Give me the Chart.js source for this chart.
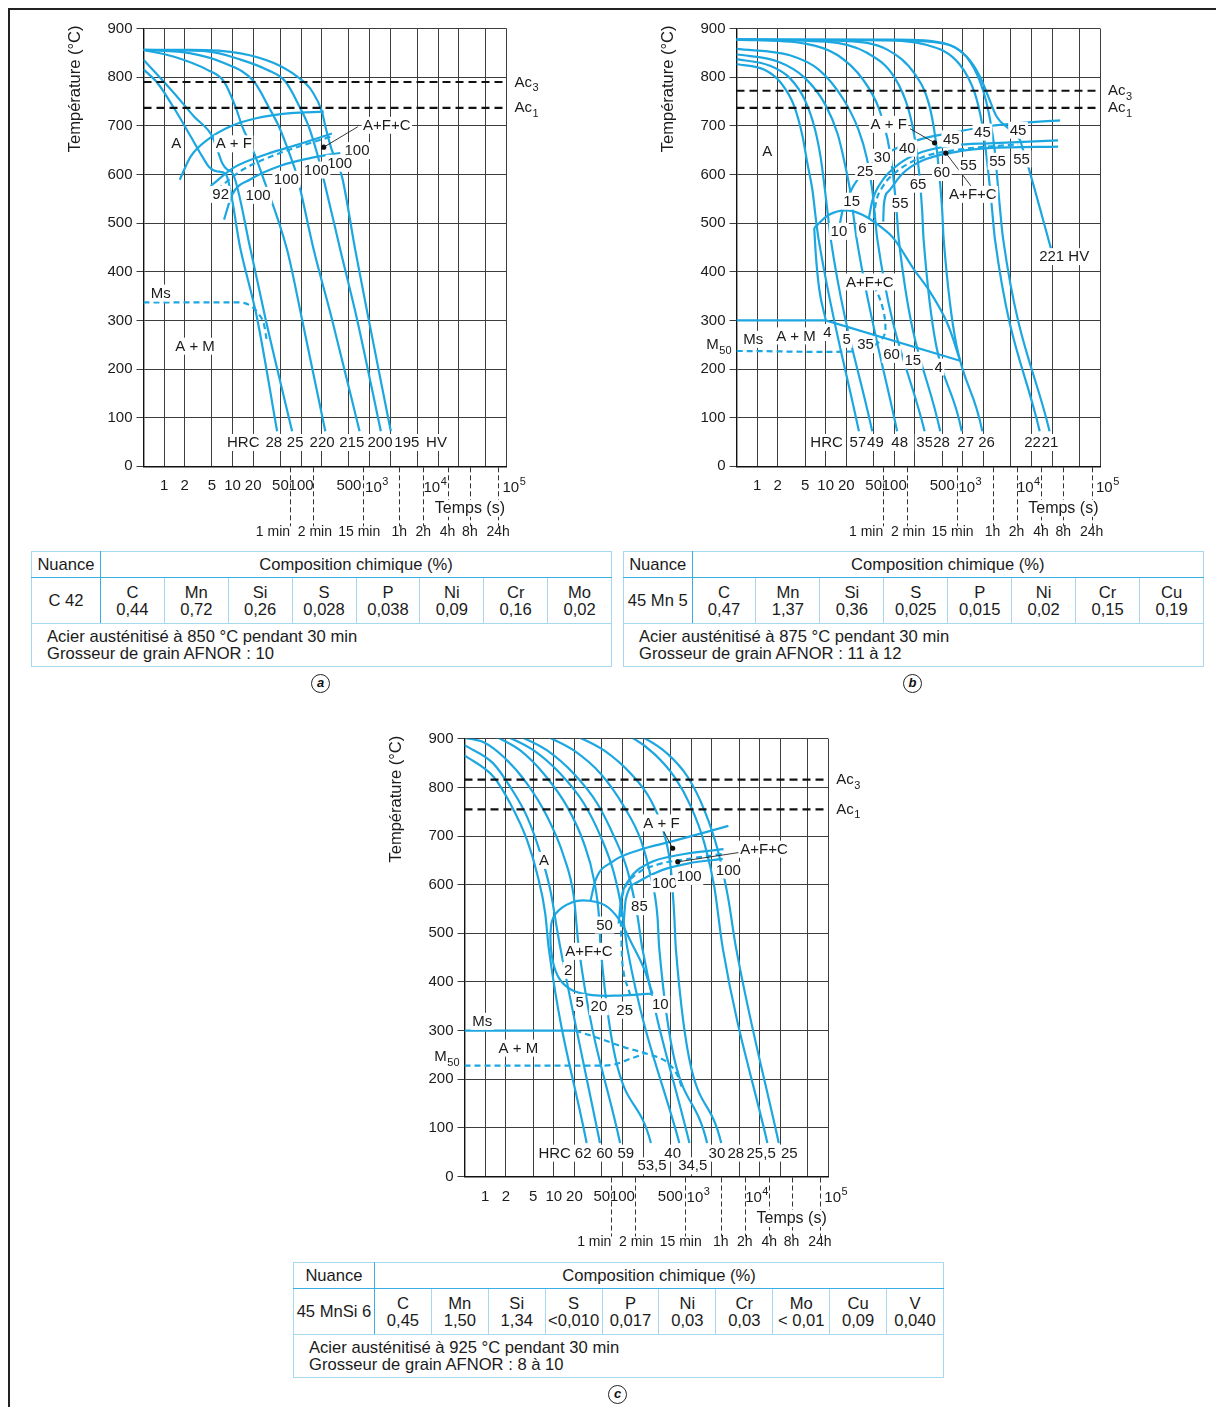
<!DOCTYPE html>
<html><head><meta charset="utf-8"><title>CCT</title>
<script src="https://cdn.jsdelivr.net/npm/chart.js@4.4.1/dist/chart.umd.min.js"></script>
<style>
html,body{margin:0;padding:0;background:#fff;}
body{position:relative;width:1216px;height:1407px;overflow:hidden;font-family:"Liberation Sans",Arial,sans-serif;color:#1b1b1b;}
#frameTop{position:absolute;left:8px;top:8px;width:1208px;height:1.5px;background:#222;}
#frameLeft{position:absolute;left:8px;top:8px;width:1.5px;height:1399px;background:#222;}
canvas{position:absolute;}
table.comp{position:absolute;border-collapse:collapse;table-layout:fixed;font-size:16.6px;line-height:17px;border:1.6px solid #3aafe3;color:#1b1b1b;}
table.comp td{border:1px solid #a6d8f0;padding:0;text-align:center;vertical-align:middle;white-space:nowrap;overflow:hidden;}
table.comp td.nm{border-right:1.6px solid #3aafe3;}
table.comp tr.h td{border-bottom:1.6px solid #3aafe3;}
table.comp tr.f td{border-top:1.6px solid #3aafe3;text-align:left;padding-left:15px;}
.circ{position:absolute;width:17px;height:17px;border:1.3px solid #222;border-radius:50%;font:italic bold 13px "Liberation Sans",Arial,sans-serif;text-align:center;line-height:16px;color:#111;}
</style></head><body>
<div id="frameTop"></div><div id="frameLeft"></div>
<canvas id="a" width="608" height="545" style="left:0;top:0"></canvas>
<canvas id="b" width="608" height="545" style="left:608px;top:0"></canvas>
<canvas id="c" width="620" height="545" style="left:300px;top:710px"></canvas>
<div id="tables"></div>
<div class="circ" style="left:311px;top:674px">a</div>
<div class="circ" style="left:903px;top:674px">b</div>
<div class="circ" style="left:608px;top:1385px">c</div>
<script>
// ---------- shared axis values ----------
const X_GRID = [0.5,1,2,5,10,20,50,100,200,500,1000,2000,5000,10000,20000,50000,100000];
const X_LABELS = {1:'1',2:'2',5:'5',10:'10',20:'20',50:'50',100:'100',500:'500'};
const X_POWERS = [[1000,'3'],[10000,'4'],[100000,'5']];
const TIME_MARKS = [[68.8,'1 min'],[151,'2 min'],[809,'15 min'],[2712,'1h'],[6080,'2h'],[13800,'4h'],[29200,'8h'],[75600,'24h']];
const TEMPS_T = 29200;

// ---------- chart a : C 42 ----------
const A_AC = [[790,'3'],[737,'1']];
const A_CURVE_28  = [[0.5,816],[0.8,788],[1.4,736],[2.45,678],[3.6,637],[4.5,616],[6.0,606],[7.9,601],[13.1,445],[22.9,303],[44.7,72]];
const A_CURVE_25  = [[0.5,836],[1.4,767],[2.73,719],[5.06,678],[6.12,647],[7.07,623],[8.37,610],[9.9,604],[18.3,445],[30.3,303],[74,72]];
const A_CURVE_220 = [[0.5,856],[1.4,842],[4.28,815],[7.48,791],[11.1,738],[13.8,699],[19.3,654],[27,599],[62.5,445],[103,303],[226,72]];
const A_CURVE_215 = [[0.5,856],[2.45,849],[7.48,829],[20.5,791],[33.8,738],[47.3,699],[70,637],[87.5,596],[153,445],[282,303],[715,72]];
const A_CURVE_200 = [[0.5,856],[4.28,853],[13.1,836],[31.9,815],[59,791],[96,738],[129,699],[171,644],[209,596],[374,445],[655,303],[1462,72]];
const A_CURVE_195 = [[0.5,856],[2.45,856],[13.1,849],[40,829],[88,801],[145,771],[202,729],[226,699],[280,651],[395,596],[618,445],[967,303],[2046,72]];
const A_FS  = [[1.69,589],[2.45,637],[4.28,671],[9.35,699],[22.9,716],[70,726],[214,729]];
const A_PS  = [[4.78,576],[10.4,614],[32,642],[98,663],[282,684]];
const A_P50 = [[5.98,569],[13.1,607],[40,639],[305,680]];
const A_PF  = [[7.5,507],[9.9,559],[18.3,590],[50,618],[153,635],[374,644]];
const A_MS  = [[0.5,337],[11.7,337],[18.3,330],[24.1,313],[28.7,292],[31.3,262]];
const A_LABELS = [[1.51,664,'A'],[10.4,663,'A + F'],[1790,701,'A+F+C'],[655,649,'100'],[366,623,'100'],[167,609,'100'],[61,590,'100'],[23.6,557,'100'],[6.7,559,'92'],[0.89,356,'Ms'],[2.83,247,'A + M']];
const A_LEADERS = [[674,698,214,656]];
const A_DOTS = [[214,656]];
const A_HARD_T = 49;
const A_HARD = [[14.3,'HRC'],[40,'28'],[82,'25'],[203,'220'],[550,'215'],[1420,'200'],[3500,'195'],[9500,'HV']];

// ---------- chart b : 45 Mn 5 ----------
const B_AC = [[772,'3'],[737,'1']];
const B_CURVE_57  = [[0.5,827],[1.28,815],[2.23,788],[3.48,740],[4.6,678],[5.4,623],[6.4,568],[7.2,507],[7.85,468],[30.5,72]];
const B_CURVE_49  = [[0.5,837],[1.5,824],[3,798],[5,752],[7,692],[8.5,632],[9.8,565],[11,505],[11.8,468],[47.7,72]];
const B_CURVE_48  = [[0.5,847],[2,832],[5,798],[10,742],[15,682],[19,622],[23,562],[26,505],[28.2,468],[110,72]];
const B_CURVE_35  = [[0.5,858],[3,845],[8,815],[18,755],[30,692],[40,632],[48,565],[53,505],[56.4,468],[277,72]];
const B_CURVE_28  = [[0.5,877],[5,869],[15,845],[35,795],[60,735],[80,672],[95,605],[108,525],[116,468],[468,72]];
const B_CURVE_27  = [[0.5,877],[10,873],[40,850],[100,800],[160,735],[200,672],[230,605],[255,525],[267,468],[964,72]];
const B_CURVE_26  = [[0.5,877],[20,874],[80,856],[200,806],[320,745],[400,672],[450,605],[500,525],[524,468],[1923,72]];
const B_CURVE_22  = [[0.5,877],[50,876],[300,866],[900,826],[1500,766],[1900,705],[2200,640],[2600,545],[2930,468],[13200,72]];
const B_CURVE_21  = [[0.5,877],[100,876],[600,867],[1300,830],[2000,770],[2500,712],[2900,652],[3400,545],[3860,468],[18400,72]];
const B_CURVE_221 = [[0.5,877],[110,877],[523,870],[1140,842],[1780,801],[2350,760],[3100,719],[4850,692],[6800,671],[7530,651],[8980,616],[19500,445]];
const B_FS  = [[16,497],[17.5,524],[21.9,559],[30.6,594],[53.3,628],[104,653],[253,673],[772,687],[2350,699],[7160,706],[26250,711]];
const B_PS  = [[42.7,510],[47.6,545],[66.6,587],[116,621],[253,646],[772,660],[2350,664],[24500,670]];
const B_P50 = [[50.4,510],[53.3,538],[66.6,573],[104,604],[253,635],[772,650],[6410,662]];
const B_PF  = [[69,503],[70.5,538],[83.2,566],[130,601],[253,628],[772,646],[2350,654],[24500,657]];
const B_BN  = [[6.8,490],[11.2,517],[19.6,526],[34.2,517],[66.6,490],[98.4,468],[191,406],[334,358],[584,296],[912,217]];
const B_BL  = [[6.8,490],[7.18,434],[8.03,365],[10,301]];
const B_MS  = [[0.5,300],[10,300],[912,217]];
const B_M50 = [[0.5,237],[40,237],[50.6,248],[66.5,262],[74.4,282],[66.5,330],[50.6,372]];
const B_LABELS = [[1.4,648,'A'],[83,703,'A + F'],[678,673,'45'],[1930,687,'45'],[6380,691,'45'],[155,654,'40'],[66.6,635,'30'],[37.4,606,'25'],[23.9,545,'15'],[15.6,483,'10'],[34.2,490,'6'],[222,580,'65'],[122,540,'55'],[494,604,'60'],[1206,618,'55'],[3200,627,'55'],[7160,632,'55'],[1400,559,'A+F+C'],[44,379,'A+F+C'],[30000,431,'221 HV'],[0.88,261,'Ms'],[3.68,268,'A + M'],[10.6,275,'4'],[20.2,261,'5'],[38,250,'35'],[91,230,'60'],[186,218,'15'],[444,204,'4']];
const B_LEADERS = [[170,694,387,665],[1318,576,565,644]];
const B_DOTS = [[387,665],[565,644]];
const B_M50_T = 252;
const B_HARD_T = 49;
const B_HARD = [[10.3,'HRC'],[29.5,'57'],[53,'49'],[120,'48'],[277,'35'],[490,'28'],[1100,'27'],[2210,'26'],[10400,'22'],[18700,'21']];

// ---------- chart c : 45 MnSi 6 ----------
const C_AC = [[816,'3'],[755,'1']];
const C_CURVE_62  = [[0.5,866],[1.32,822],[2.32,767],[4.07,692],[5.7,623],[7.5,541],[8.45,469],[30.1,69]];
const C_CURVE_60  = [[0.5,887],[1.32,849],[2.32,801],[4.07,740],[6.4,664],[8.9,589],[11.2,507],[12.5,469],[47.1,69]];
const C_CURVE_59  = [[0.5,902],[0.95,893],[1.85,863],[4.07,808],[8,740],[14,658],[19.6,575],[23.2,469],[92.4,69]];
const C_CURVE_535 = [[1.3,906],[1.66,900],[3.25,876],[7.14,828],[15.7,760],[27.5,685],[38.5,610],[45.5,535],[48.2,469],[260,69]];
const C_CURVE_40  = [[1.9,906],[2.45,900],[5.1,876],[12.5,828],[27.5,767],[48.2,699],[75.5,623],[100,541],[118,469],[675,69]];
const C_CURVE_345 = [[3,906],[3.85,900],[8,876],[19.6,828],[43,767],[75.5,699],[118,630],[166,535],[195,469],[946,69]];
const C_CURVE_30  = [[7.3,906],[9.45,900],[19.6,876],[48.2,828],[106,760],[185,692],[258,617],[324,535],[344,469],[1715,69]];
const C_CURVE_28  = [[20,906],[26,900],[54,876],[133,828],[258,774],[405,705],[510,630],[570,535],[600,469],[2750,69]];
const C_CURVE_255 = [[115,906],[148,900],[291,869],[570,822],[1000,760],[1567,685],[2180,596],[2900,469],[12950,69]];
const C_CURVE_25  = [[170,906],[218,900],[455,869],[890,822],[1567,753],[2456,671],[3440,576],[4540,469],[18970,69]];
const C_FS  = [[34.3,567],[40.5,609],[71,647],[172,671],[527,689],[3500,721]];
const C_PS  = [[88,520],[96,570],[125,610],[242,644],[661,661],[2970,673]];
const C_P50 = [[131,372],[104,420],[97,480],[96,540],[106,590],[160,622],[337,642],[820,652],[2800,663]];
const C_PF  = [[104,520],[112,570],[170,606],[377,630],[920,644],[2890,653]];
const C_BN  = [[275,376],[262,385],[204,429],[139,477],[88.6,529],[56.8,557],[32.5,567],[18.6,564],[10.6,540],[9.0,505],[9.5,449],[11.9,408],[18.6,383],[36.3,373],[88.6,372],[275,376]];
const C_MS  = [[0.5,300],[20.7,300]];
const C_MSD = [[20.7,300],[48.2,283],[105,266],[232,252],[455,234],[638,207],[753,179]];
const C_M50 = [[0.5,228],[48,228],[80,231],[130,242],[208,252]];
const C_LABELS = [[7.2,650,'A'],[371,727,'A + F'],[11600,673,'A+F+C'],[412,602,'100'],[940,617,'100'],[3500,630,'100'],[177,555,'85'],[55,517,'50'],[32.5,463,'A+F+C'],[16.2,424,'2'],[23.8,358,'5'],[45.5,349,'20'],[108,342,'25'],[357,354,'10'],[0.91,319,'Ms'],[3.05,264,'A + M']];
const C_LEADERS = [[387,713,540,675],[4920,666,640,647]];
const C_DOTS = [[540,675],[640,647]];
const C_M50_T = 248;
const C_HARD_T = 48;
const C_HARD = [[10.3,'HRC'],[26.8,'62'],[55,'60'],[112,'59'],[540,'40'],[2380,'30'],[4500,'28'],[10500,'25,5'],[27000,'25']];
const C_HARD_LOW_T = 22;
const C_HARD_LOW = [[270,'53,5'],[1060,'34,5']];

// ---------- tables ----------
const TA_NAME = 'C 42';
const TA_ELEM = ['C','Mn','Si','S','P','Ni','Cr','Mo'];
const TA_VAL  = ['0,44','0,72','0,26','0,028','0,038','0,09','0,16','0,02'];
const TA_NOTE = ['Acier austénitisé à 850 °C pendant 30 min','Grosseur de grain AFNOR : 10'];
const TB_NAME = '45 Mn 5';
const TB_ELEM = ['C','Mn','Si','S','P','Ni','Cr','Cu'];
const TB_VAL  = ['0,47','1,37','0,36','0,025','0,015','0,02','0,15','0,19'];
const TB_NOTE = ['Acier austénitisé à 875 °C pendant 30 min','Grosseur de grain AFNOR : 11 à 12'];
const TC_NAME = '45 MnSi 6';
const TC_ELEM = ['C','Mn','Si','S','P','Ni','Cr','Mo','Cu','V'];
const TC_VAL  = ['0,45','1,50','1,34','<0,010','0,017','0,03','0,03','< 0,01','0,09','0,040'];
const TC_NOTE = ['Acier austénitisé à 925 °C pendant 30 min','Grosseur de grain AFNOR : 8 à 10'];

// ================= rendering =================
const BLUE = '#1ca7e1';
const TXT = '#1b1b1b';
const GRID = '#3d3d3d';
const FONT = '"Liberation Sans", Arial, sans-serif';
const TIME_LABEL_DX = {'1 min':-17,'2 min':1.5,'15 min':-4};
const POWER_DX = {'3':-4.5,'4':-14.5,'5':-4};

function pts(a){return a.map(p=>({x:p[0],y:p[1]}));}
function line(a,o){return Object.assign({data:pts(a),showLine:true,borderColor:BLUE,borderWidth:2.2,pointRadius:0,pointHoverRadius:0,fill:false,tension:0,cubicInterpolationMode:'monotone'},o||{});}
const mono = a => line(a);
const loop = a => line(a,{cubicInterpolationMode:'default',tension:0.4});
const straight = a => line(a,{cubicInterpolationMode:'default',tension:0});
const dashedMono = a => line(a,{borderDash:[6,4]});
const dashedLoop = a => line(a,{borderDash:[6,4],cubicInterpolationMode:'default',tension:0.4});
const acLine = T => ({data:[{x:0.5,y:T},{x:100000,y:T}],showLine:true,borderColor:'#111',borderWidth:2.2,borderDash:[8,5],pointRadius:0,tension:0});

const DECOR = {
  a:{ac:A_AC,labels:A_LABELS,leaders:A_LEADERS,dots:A_DOTS,hard:A_HARD,hardT:A_HARD_T},
  b:{ac:B_AC,labels:B_LABELS,leaders:B_LEADERS,dots:B_DOTS,hard:B_HARD,hardT:B_HARD_T,m50:B_M50_T},
  c:{ac:C_AC,labels:C_LABELS,leaders:C_LEADERS,dots:C_DOTS,hard:C_HARD,hardT:C_HARD_T,hardLow:C_HARD_LOW,hardLowT:C_HARD_LOW_T,m50:C_M50_T}
};

function textBox(ctx,x,y,txt,font,bg){
  ctx.font=font; const w=ctx.measureText(txt).width;
  if(bg!==false){ctx.fillStyle='#fff';ctx.fillRect(x-w/2-1.5,y-8.5,w+3,17);}
  ctx.fillStyle=TXT;ctx.textAlign='center';ctx.textBaseline='middle';ctx.fillText(txt,x,y+0.5);
}
function subText(ctx,x,y,main,sub,align){
  ctx.font='15px '+FONT; const w1=ctx.measureText(main).width;
  ctx.font='11px '+FONT; const w2=ctx.measureText(sub).width;
  const x0 = align==='right' ? x-w1-w2-0.5 : x;
  ctx.fillStyle=TXT;ctx.textAlign='left';ctx.textBaseline='alphabetic';
  ctx.font='15px '+FONT; ctx.fillText(main,x0,y+5.5);
  ctx.font='11px '+FONT; ctx.fillText(sub,x0+w1+0.5,y+10);
}

const decorPlugin = {
  id:'decor',
  afterDraw(chart){
    const s=DECOR[chart.canvas.id]; if(!s) return;
    const ctx=chart.ctx, ca=chart.chartArea, xs=chart.scales.x, ys=chart.scales.y;
    const X=v=>xs.getPixelForValue(v), Y=v=>ys.getPixelForValue(v);
    ctx.save();
    ctx.strokeStyle='#222';ctx.lineWidth=0.9;
    s.leaders.forEach(l=>{ctx.beginPath();ctx.moveTo(X(l[0]),Y(l[1]));ctx.lineTo(X(l[2]),Y(l[3]));ctx.stroke();});
    s.labels.forEach(l=>textBox(ctx,X(l[0]),Y(l[1]),l[2],'15px '+FONT));
    s.hard.forEach(h=>textBox(ctx,X(h[0]),Y(s.hardT),h[1],'15px '+FONT));
    (s.hardLow||[]).forEach(h=>textBox(ctx,X(h[0]),Y(s.hardLowT),h[1],'15px '+FONT));
    ctx.fillStyle='#111';
    s.dots.forEach(d=>{ctx.beginPath();ctx.arc(X(d[0]),Y(d[1]),2.6,0,Math.PI*2);ctx.fill();});
    s.ac.forEach(a=>subText(ctx,ca.right+8,Y(a[0])-1,'Ac',a[1],'left'));
    if(s.m50) subText(ctx,ca.left-5,Y(s.m50),'M','50','right');
    X_POWERS.forEach(p=>{
      const gx=X(p[0])+POWER_DX[p[1]], by=ca.bottom+25.5;
      ctx.fillStyle=TXT;ctx.textAlign='left';ctx.textBaseline='alphabetic';
      ctx.font='15px '+FONT; ctx.fillText('10',gx,by);
      const w=ctx.measureText('10').width;
      ctx.font='11px '+FONT; ctx.fillText(p[1],gx+w+0.5,by-7);
    });
    ctx.strokeStyle='#333';ctx.lineWidth=1;ctx.setLineDash([5,3]);
    TIME_MARKS.forEach(m=>{const x=Math.round(X(m[0]))+0.5;ctx.beginPath();ctx.moveTo(x,ca.bottom+1);ctx.lineTo(x,ca.bottom+60);ctx.stroke();});
    ctx.setLineDash([]);
    TIME_MARKS.forEach(m=>textBox(ctx,X(m[0])+(TIME_LABEL_DX[m[1]]||0),ca.bottom+65,m[1],'14px '+FONT,false));
    textBox(ctx,X(TEMPS_T),ca.bottom+42,'Temps (s)','16px '+FONT,true);
    ctx.translate(ca.left-68,ca.top-3);ctx.rotate(-Math.PI/2);
    ctx.font='16.5px '+FONT;ctx.fillStyle=TXT;ctx.textAlign='right';ctx.textBaseline='middle';
    ctx.fillText('Température (°C)',0,0);
    ctx.restore();
  }
};

Chart.defaults.font.family = FONT;
Chart.defaults.color = TXT;

function makeChart(id, datasets, g){
  const YW=43.5;
  const cv=document.getElementById(id);
  return new Chart(cv,{
    type:'scatter',
    data:{datasets},
    plugins:[decorPlugin],
    options:{
      responsive:false,animation:false,devicePixelRatio:1,
      layout:{padding:{left:g.plotL-g.left-YW,right:g.left+g.w-g.plotR,top:g.plotT-g.top,bottom:0}},
      plugins:{legend:{display:false},tooltip:{enabled:false}},
      scales:{
        x:{type:'logarithmic',min:0.5,max:100000,
           afterBuildTicks:s=>{s.ticks=X_GRID.map(v=>({value:v}));},
           afterFit:s=>{s.height=g.top+g.h-g.plotB;},
           ticks:{autoSkip:false,maxRotation:0,minRotation:0,padding:11,color:TXT,font:{size:15},callback:v=>X_LABELS[v]||''},
           grid:{color:GRID,lineWidth:1,drawTicks:false},
           border:{color:'#111',width:1.4}},
        y:{type:'linear',min:0,max:900,
           afterFit:s=>{s.width=YW;},
           ticks:{stepSize:100,padding:4,color:TXT,font:{size:15}},
           grid:{color:GRID,lineWidth:1,drawTicks:true,tickLength:7},
           border:{color:'#111',width:1.4}}
      }
    }
  });
}

makeChart('a',[
  acLine(A_AC[0][0]),acLine(A_AC[1][0]),
  mono(A_CURVE_28),mono(A_CURVE_25),mono(A_CURVE_220),mono(A_CURVE_215),mono(A_CURVE_200),mono(A_CURVE_195),
  mono(A_FS),mono(A_PS),dashedMono(A_P50),mono(A_PF),dashedMono(A_MS)
],{left:0,top:0,w:608,h:545,plotL:143.5,plotR:506.5,plotT:28.5,plotB:466.3});

makeChart('b',[
  acLine(B_AC[0][0]),acLine(B_AC[1][0]),
  mono(B_CURVE_57),mono(B_CURVE_49),mono(B_CURVE_48),mono(B_CURVE_35),mono(B_CURVE_28),
  mono(B_CURVE_27),mono(B_CURVE_26),mono(B_CURVE_22),mono(B_CURVE_21),mono(B_CURVE_221),
  mono(B_FS),mono(B_PS),dashedMono(B_P50),mono(B_PF),loop(B_BN),mono(B_BL),straight(B_MS),dashedLoop(B_M50)
],{left:608,top:0,w:608,h:545,plotL:736.5,plotR:1100,plotT:28.5,plotB:466.3});

makeChart('c',[
  acLine(C_AC[0][0]),acLine(C_AC[1][0]),
  mono(C_CURVE_62),mono(C_CURVE_60),mono(C_CURVE_59),mono(C_CURVE_535),mono(C_CURVE_40),
  mono(C_CURVE_345),mono(C_CURVE_30),mono(C_CURVE_28),mono(C_CURVE_255),mono(C_CURVE_25),
  mono(C_FS),mono(C_PS),dashedLoop(C_P50),mono(C_PF),loop(C_BN),straight(C_MS),dashedMono(C_MSD),dashedMono(C_M50)
],{left:300,top:710,w:620,h:545,plotL:464.5,plotR:828.3,plotT:738.8,plotB:1176.5});

function buildTable(name,elems,vals,notes,left,top,width,nameW){
  const t=document.createElement('table');t.className='comp';
  t.style.left=left+'px';t.style.top=top+'px';t.style.width=width+'px';
  const cw=(width-nameW)/elems.length;
  let h='<colgroup><col style="width:'+nameW+'px">'+elems.map(()=>'<col style="width:'+cw+'px">').join('')+'</colgroup>';
  h+='<tr class="h" style="height:26px"><td class="nm">Nuance</td><td colspan="'+elems.length+'">Composition chimique (%)</td></tr>';
  h+='<tr class="v" style="height:46px"><td class="nm">'+name+'</td>'+elems.map((e,i)=>'<td>'+e+'<br>'+vals[i]+'</td>').join('')+'</tr>';
  h+='<tr class="f" style="height:43px"><td colspan="'+(elems.length+1)+'">'+notes.join('<br>')+'</td></tr>';
  t.innerHTML=h;document.getElementById('tables').appendChild(t);
}
buildTable(TA_NAME,TA_ELEM,TA_VAL,TA_NOTE,31,551,580,69);
buildTable(TB_NAME,TB_ELEM,TB_VAL,TB_NOTE,623,551,580,68.5);
buildTable(TC_NAME,TC_ELEM,TC_VAL,TC_NOTE,293,1262,650,81);
</script>
</body></html>
